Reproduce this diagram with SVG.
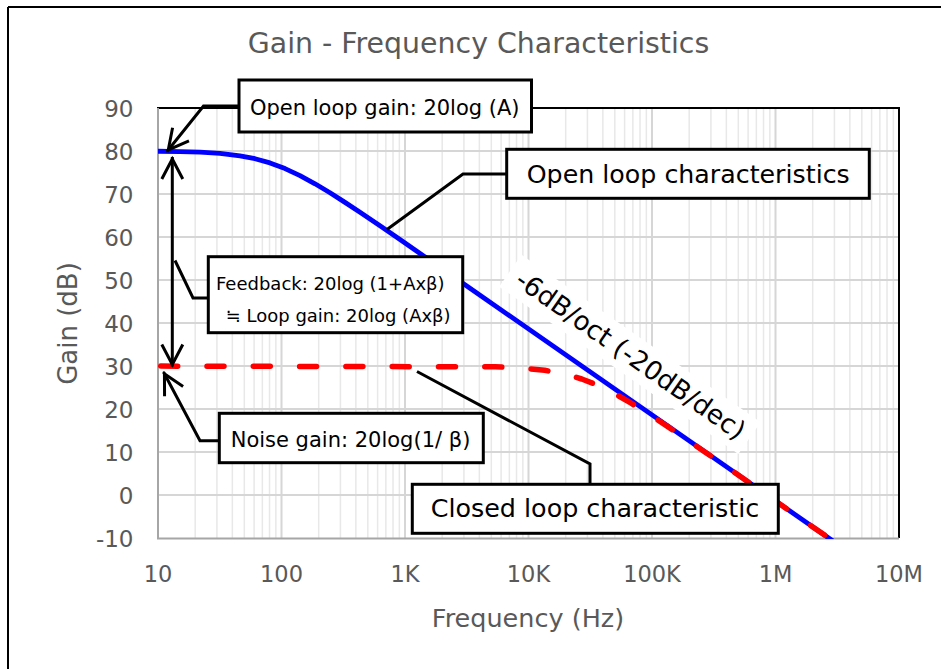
<svg xmlns="http://www.w3.org/2000/svg" width="941" height="669" viewBox="0 0 941 669">
<defs>
<style>
text{font-family:"DejaVu Sans","Noto Sans CJK JP",sans-serif;}
.ax{fill:#595959;}
.yt{font-size:23px;text-anchor:end;}
.xt{font-size:22.5px;text-anchor:middle;}
.box{fill:#fff;stroke:#000;stroke-width:3;}
.lead{fill:none;stroke:#000;stroke-width:3;stroke-linejoin:miter;}
.minor{fill:none;stroke:#e8e8e8;stroke-width:1.5;}
.major{fill:none;stroke:#d6d6d6;stroke-width:2;}
</style>
<clipPath id="plotclip"><rect x="158" y="108" width="741" height="431"/></clipPath>
<marker id="arr" markerUnits="userSpaceOnUse" markerWidth="30" markerHeight="30" viewBox="-25 -15 30 30" refX="0" refY="0" orient="auto-start-reverse" overflow="visible">
<path d="M-22,-10.5 L-2,0 L-22,10.5" fill="none" stroke="#000" stroke-width="3"/>
</marker>
</defs>
<rect width="941" height="669" fill="#fff"/>
<g id="frame">
<path d="M8,7 H941 M8,7 V669" fill="none" stroke="#000" stroke-width="2"/>
</g>
<g id="title">
<text x="478.5" y="53" font-size="28.4" text-anchor="middle" class="ax">Gain - Frequency Characteristics</text>
</g>
<g id="grid">
<path class="minor" d="M195.18,108V538M216.92,108V538M232.35,108V538M244.32,108V538M254.1,108V538M262.37,108V538M269.53,108V538M275.85,108V538
M318.68,108V538M340.42,108V538M355.85,108V538M367.82,108V538M377.6,108V538M385.87,108V538M393.03,108V538M399.35,108V538
M442.18,108V538M463.92,108V538M479.35,108V538M491.32,108V538M501.1,108V538M509.37,108V538M516.53,108V538M522.85,108V538
M565.68,108V538M587.42,108V538M602.85,108V538M614.82,108V538M624.6,108V538M632.87,108V538M640.03,108V538M646.35,108V538
M689.18,108V538M710.92,108V538M726.35,108V538M738.32,108V538M748.1,108V538M756.37,108V538M763.53,108V538M769.85,108V538
M812.68,108V538M834.42,108V538M849.85,108V538M861.82,108V538M871.6,108V538M879.87,108V538M887.03,108V538M893.35,108V538"/>
<path class="major" d="M281.5,108V538M405,108V538M528.5,108V538M652,108V538M775.5,108V538
M158,151H899M158,194H899M158,237H899M158,280H899M158,323H899M158,366H899M158,409H899M158,452H899M158,495H899"/>
</g>
<g id="axes">
<path d="M157,108 H899 V538" fill="none" stroke="#000" stroke-width="2"/>
<path d="M158,108 V538.5 M157,538.5 H899" fill="none" stroke="#a6a6a6" stroke-width="2"/>
<g class="ax yt">
<text x="133.5" y="117">90</text>
<text x="133.5" y="160">80</text>
<text x="133.5" y="203">70</text>
<text x="133.5" y="246">60</text>
<text x="133.5" y="289">50</text>
<text x="133.5" y="332">40</text>
<text x="133.5" y="375">30</text>
<text x="133.5" y="418">20</text>
<text x="133.5" y="461">10</text>
<text x="133.5" y="504">0</text>
<text x="133.5" y="547">-10</text>
</g>
<g class="ax xt">
<text x="158" y="582">10</text>
<text x="281.5" y="582">100</text>
<text x="405" y="582">1K</text>
<text x="528.5" y="582">10K</text>
<text x="652" y="582">100K</text>
<text x="775.5" y="582">1M</text>
<text x="899" y="582">10M</text>
</g>
<text x="528" y="627" font-size="25.5" text-anchor="middle" class="ax">Frequency (Hz)</text>
<text transform="translate(76.5,323.5) rotate(-90)" font-size="26" text-anchor="middle" class="ax">Gain (dB)</text>
</g>
<g id="slope-label-bg">
<rect transform="translate(512.5,285) rotate(35)" x="-10" y="-30" width="292" height="39" fill="#fff"/>
</g>
<g id="series" clip-path="url(#plotclip)">
<polyline id="open-loop-curve" fill="none" stroke="#0000ff" stroke-width="4.8" stroke-linejoin="round" points="158,151.25 180,151.57 200,152.19 220,153.43 240,155.79 255,158.71 270,162.93 285,168.58 300,175.61 315,183.78 330,192.8 345,202.38 360,212.3 380,225.86 400,239.6 430,260.4 470,288.2 860,559.8"/>
<polyline id="closed-loop-curve" fill="none" stroke="#ff0000" stroke-width="5.5" stroke-linecap="round" stroke-linejoin="round" stroke-dasharray="17 29.3" points="160.7,366.1 495.3,366.84 520,367.88 544.7,370.27 569.4,375.2 581.75,379 594.1,383.78 606.45,389.49 618.8,396 631.15,403.2 643.5,410.8 655.85,418.75 668.2,426.9 705.25,452.2 736.1,473.56 767,495.02 860,559.8"/>
</g>
<g id="connectors">
<polyline class="lead" points="239,106 203.5,106 167,151.5" marker-end="url(#arr)"/>
<polyline class="lead" points="507,174 463,174 387,229.5"/>
<line class="lead" x1="172.3" y1="157" x2="172.3" y2="366.5" marker-start="url(#arr)" marker-end="url(#arr)"/>
<polyline class="lead" points="208,298 193,298 175,260.5"/>
<polyline class="lead" points="219,440.7 200,440.7 163.5,372" marker-end="url(#arr)"/>
<polyline class="lead" points="590,484 590,464 417,371.5"/>
</g>
<g id="node-open-loop-gain">
<rect class="box" x="239" y="80" width="292.5" height="52"/>
<text x="250" y="115" font-size="21">Open loop gain: 20log (A)</text>
</g>
<g id="node-open-loop-characteristics">
<rect class="box" x="506.7" y="149.3" width="362.6" height="49"/>
<text x="526.7" y="182.7" font-size="25.3">Open loop characteristics</text>
</g>
<g id="node-feedback">
<rect class="box" x="208.3" y="256.7" width="254.4" height="76"/>
<text x="216" y="290" font-size="18">Feedback: 20log (1+Axβ)</text>
<text x="225.7" y="321.7" font-size="18">≒ Loop gain: 20log (Axβ)</text>
</g>
<g id="node-noise-gain">
<rect class="box" x="219.3" y="413.3" width="264" height="49.4"/>
<text x="230.7" y="446.7" font-size="21">Noise gain: 20log(1/ β)</text>
</g>
<g id="node-closed-loop">
<rect class="box" x="412.3" y="484.3" width="366" height="49"/>
<text x="430.7" y="516.7" font-size="25.4">Closed loop characteristic</text>
</g>
<g id="node-slope-label">
<text transform="translate(513.5,284) rotate(35)" x="0" y="0" font-size="26.3">-6dB/oct (-20dB/dec)</text>
</g>
</svg>
